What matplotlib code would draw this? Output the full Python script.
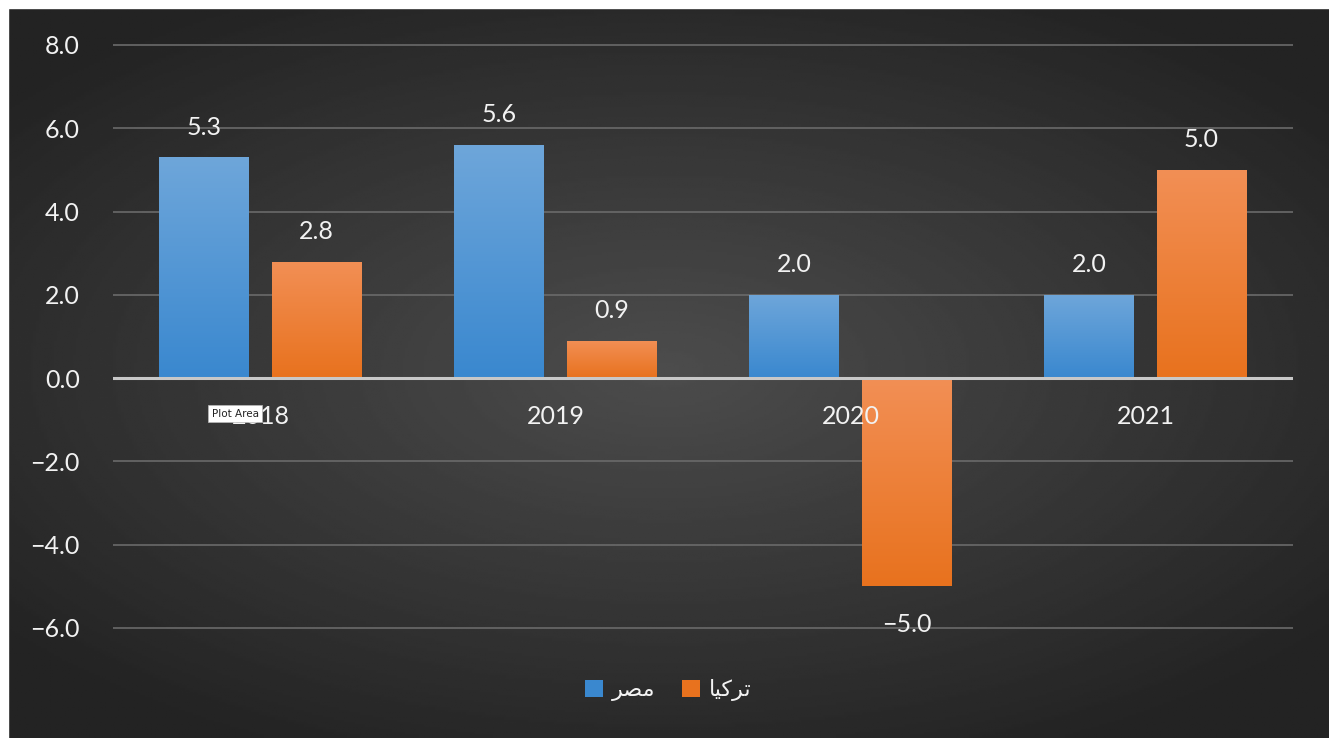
import numpy as np
import matplotlib.pyplot as plt
from matplotlib.patches import Patch, Rectangle

# data
years = ["2018", "2019", "2020", "2021"]
egypt = [5.3, 5.6, 2.0, 2.0]
turkey = [2.8, 0.9, -5.0, 5.0]
yticks = [-6, -4, -2, 0, 2, 4, 6, 8]

# Arabic labels in presentation forms (visual order) so they show joined without a shaper
label_egypt = "\uFEAE\uFEBC\uFEE3"               # مصر
label_turkey = "\uFE8E\uFEF4\uFEDB\uFEAE\uFE97"  # تركيا

blue_top, blue_bot = "#6ea6da", "#3a88cf"
orange_top, orange_bot = "#f28f55", "#e8721e"

W, H = 1329, 738
fig = plt.figure(figsize=(W / 100, H / 100), dpi=100)
fig.patch.set_facecolor("#262626")

# radial dark background
bg = fig.add_axes([0, 0, 1, 1])
yy, xx = np.mgrid[-1:1:300j, -1:1:500j]
r = np.sqrt((xx * 0.9) ** 2 + (yy * 1.0) ** 2)
shade = np.clip(0.30 - 0.14 * r, 0.14, 0.30)
bg.imshow(shade, cmap="gray", vmin=0, vmax=1, aspect="auto", extent=[0, 1, 0, 1])
bg.set_xlim(0, 1)
bg.set_ylim(0, 1)
bg.set_axis_off()
# thin white strips on top and left edges
bg.add_patch(Rectangle((0, 1 - 8 / H), 1, 8 / H, color="white", zorder=5))
bg.add_patch(Rectangle((0, 0), 8 / W, 1, color="white", zorder=5))

ax = fig.add_axes([113 / W, 43.4 / H, 1180 / W, (694.6 - 32.5) / H])
ax.patch.set_alpha(0)
ax.set_xlim(-0.5, 3.5)
ax.set_ylim(-7.6, 8.3)

x = np.arange(len(years))
w = 0.305
off = 0.19


def grad_bars(xs, vals, top, bot):
    bars = ax.bar(xs, vals, width=w, color=bot, zorder=3)
    cmap = plt.matplotlib.colors.LinearSegmentedColormap.from_list("g", [bot, top])
    for b in bars:
        x0, y0 = b.get_x(), b.get_y()
        bw, bh = b.get_width(), b.get_height()
        ylo, yhi = min(y0, y0 + bh), max(y0, y0 + bh)
        g = np.linspace(0, 1, 100).reshape(-1, 1)
        im = ax.imshow(g, cmap=cmap, origin="lower", aspect="auto",
                       extent=[x0, x0 + bw, ylo, yhi], zorder=3.5)
        im.set_clip_path(b)
    return bars


grad_bars(x - off, egypt, blue_top, blue_bot)
grad_bars(x + off, turkey, orange_top, orange_bot)

lab_font = ["Lato", "DejaVu Sans"]
fs = 18


def fmt(v):
    return f"{v:.1f}".replace("-", "\u2212")


for xi, v in zip(x - off, egypt):
    ax.text(xi, v + 0.45, fmt(v), ha="center", va="bottom", color="#f2f2f2",
            fontsize=fs, family=lab_font, zorder=5)
for xi, v in zip(x + off, turkey):
    if v >= 0:
        ax.text(xi, v + 0.45, fmt(v), ha="center", va="bottom", color="#f2f2f2",
                fontsize=fs, family=lab_font, zorder=5)
    else:
        ax.text(xi, v - 0.65, fmt(v), ha="center", va="top", color="#f2f2f2",
                fontsize=fs, family=lab_font, zorder=5)

# category labels sit just under the zero line
for xi, yr in zip(x, years):
    ax.text(xi, -0.65, yr, ha="center", va="top", color="#f2f2f2",
            fontsize=fs, family=lab_font, zorder=6)

# the "Plot Area" hover tip that covers part of the 2018 label in the source
ax.text(-0.165, -0.85, "Plot Area", ha="left", va="center", fontsize=7.5,
        family="DejaVu Sans", color="#222222", zorder=7,
        bbox=dict(boxstyle="square,pad=0.35", fc="white", ec="#bbbbbb", lw=0.5))

ax.axhline(0, color="#c8c8c8", lw=2.2, zorder=4)
ax.set_yticks(yticks)
ax.set_yticklabels([fmt(t) for t in yticks], color="#f2f2f2", fontsize=fs, family=lab_font)
ax.set_xticks([])
ax.tick_params(axis="y", length=0, pad=24)
ax.grid(axis="y", color="#6a6a6a", lw=1.2, zorder=1)
for s in ax.spines.values():
    s.set_visible(False)

handles = [Patch(facecolor=blue_bot, edgecolor="none"),
           Patch(facecolor=orange_bot, edgecolor="none")]
leg = fig.legend(handles, [label_egypt, label_turkey], loc="center",
                 bbox_to_anchor=(668 / W, 1 - 690 / H), ncol=2, frameon=False,
                 handlelength=0.8, handleheight=0.8, handletextpad=0.4,
                 columnspacing=1.2, prop={"family": "DejaVu Sans", "size": 16})
for t in leg.get_texts():
    t.set_color("#f2f2f2")

fig.savefig("out.png", dpi=100, facecolor=fig.get_facecolor())
